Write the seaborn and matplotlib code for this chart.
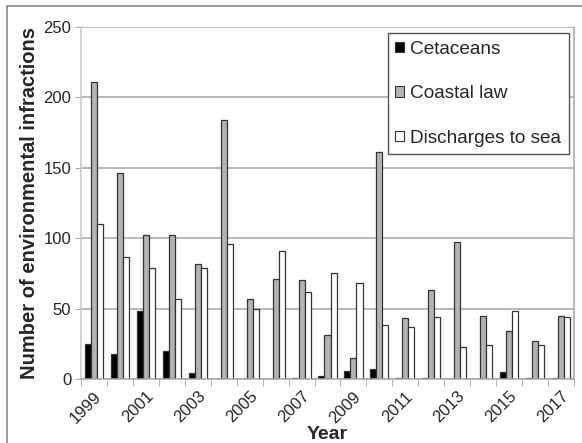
import matplotlib
matplotlib.use('Agg')
import matplotlib.pyplot as plt
import seaborn as sns
import pandas as pd
from matplotlib.lines import Line2D

# data
years = [str(y) for y in range(1999, 2018)]
cetaceans = [25, 18, 48, 20, 4, 0, 0, 0, 1, 2, 6, 7, 1, 1, 0, 0, 5, 1, 1]
coastal_law = [211, 146, 102, 102, 82, 184, 57, 71, 70, 31, 15, 161, 43, 63, 97, 45, 34, 27, 45]
discharges = [110, 87, 79, 57, 79, 96, 50, 91, 62, 75, 68, 38, 37, 44, 23, 24, 48, 24, 44]
series = ['Cetaceans', 'Coastal law', 'Discharges to sea']
colors = ['#000000', '#B2B4B4', '#FFFFFF']

df = pd.DataFrame({'Year': years * 3,
                   'Type': sum([[s] * len(years) for s in series], []),
                   'Value': cetaceans + coastal_law + discharges})

sns.set_style('white')
plt.rcParams['font.family'] = ['Liberation Sans', 'DejaVu Sans']

fig = plt.figure(figsize=(5.82, 4.43), dpi=100)
ax = fig.add_axes([81 / 582, 64 / 443, 493 / 582, 352 / 443])

sns.barplot(data=df, x='Year', y='Value', hue='Type', palette=colors,
            width=0.7, gap=0, edgecolor='#333333', linewidth=0.9, ax=ax)

ax.set_ylim(0, 250)
ax.set_xlim(-0.5, len(years) - 0.5)
ax.set_yticks(range(0, 251, 50))
ax.yaxis.grid(True, color='#A6A6A6', linewidth=1.1)
ax.set_axisbelow(True)
ax.tick_params(axis='y', labelsize=12, length=4, color='#A6A6A6', direction='out', left=True, pad=3)

# year labels every other year, tick marks between groups
ax.set_xticks(range(0, len(years), 2))
ax.set_xticklabels(years[::2], rotation=45, ha='right', rotation_mode='anchor', fontsize=12)
ax.set_xticks([i - 0.5 for i in range(len(years) + 1)], minor=True)
ax.tick_params(axis='x', which='major', length=0, pad=7)
ax.tick_params(axis='x', which='minor', length=5, color='#A6A6A6', direction='out', bottom=True)

for side in ['left', 'right', 'bottom']:
    ax.spines[side].set_color('#A6A6A6')
    ax.spines[side].set_linewidth(1.1)
ax.spines['top'].set_visible(False)
ax.spines['left'].set_color('#C8C8C8')

ax.set_xlabel('Year', fontsize=14, fontweight='bold', labelpad=0)
ax.set_ylabel('Number of environmental infractions', fontsize=14.5, fontweight='bold', labelpad=3)

leg = ax.legend(loc='upper right', bbox_to_anchor=(0.99, 0.983), fontsize=13.7,
                frameon=True, fancybox=False, edgecolor='#555555', framealpha=1,
                handlelength=0.45, handleheight=0.45, handletextpad=0.35,
                labelspacing=1.45, borderpad=0.4, borderaxespad=0)
leg.get_frame().set_linewidth(1.0)
for h in leg.legend_handles:
    h.set_edgecolor('#333333')
    h.set_linewidth(0.8)

# outer chart frame
fig.add_artist(Line2D([7 / 582, 7 / 582], [0, 1 - 6 / 443], transform=fig.transFigure, color='#8C8C8C', lw=1.2))
fig.add_artist(Line2D([7 / 582, 1], [1 - 6 / 443, 1 - 6 / 443], transform=fig.transFigure, color='#8C8C8C', lw=1.2))

fig.savefig('out.png', dpi=100)
